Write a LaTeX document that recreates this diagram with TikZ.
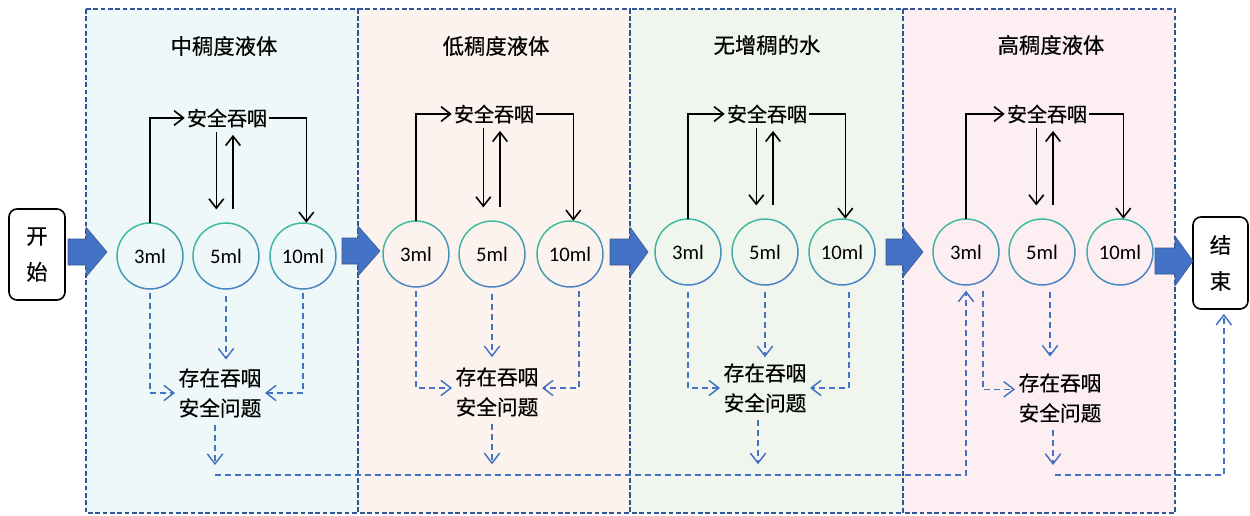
\documentclass[tikz,border=0pt]{standalone}
\usepackage{fontspec}
\setmainfont{Noto Sans CJK SC}[BoldFont={Noto Sans CJK SC}, BoldFeatures={FakeBold=0.5}]
\newfontfamily\latf{Carlito}
\usetikzlibrary{arrows.meta,calc}
\definecolor{ringgreen}{HTML}{3DBE9C}
\definecolor{ringblue}{HTML}{4A7FC8}
\definecolor{panelblue}{HTML}{2F5597}
\definecolor{dblue}{HTML}{4472C4}
\definecolor{fillA}{HTML}{EEF8F8}
\definecolor{fillB}{HTML}{FDF3EE}
\definecolor{fillC}{HTML}{F0F6EE}
\definecolor{fillD}{HTML}{FCEEF1}
\definecolor{barrow}{HTML}{4472C4}
\tikzset{
 panelbox/.style={draw=panelblue, line width=1.3pt, dash pattern=on 3.5pt off 2pt},
 titletext/.style={font=\bfseries\fontsize{16}{18}\selectfont, inner sep=1pt},
 safetext/.style={font=\bfseries\fontsize{15}{18}\selectfont, inner sep=1.5pt},
 probtext/.style={font=\bfseries\fontsize{15.5}{22.5}\selectfont, align=center, inner sep=2.5pt},
 mlc/.style={circle, minimum size=49.5pt, inner sep=0pt, font=\latf\fontsize{15.5}{18}\selectfont},
 blk/.style={draw=black, line width=1.2pt, -{Straight Barb[length=7pt,width=11pt,line width=1.2pt]}},
 dsh/.style={draw=dblue, line width=1.1pt, dash pattern=on 4.5pt off 3pt, -{Straight Barb[length=7.5pt,width=11.5pt,line width=1.1pt]}},
 termbox/.style={draw=black, line width=1.2pt, rounded corners=6pt, align=center, font=\bfseries\fontsize{16}{27}\selectfont},
 bigarrow/.style={fill=barrow, draw=barrow!75!black, line width=0.4pt},
}
\newcommand{\mlcirc}[4]{%
 \node[mlc] (#1) at (#2,#3) {#4};
 \foreach \a in {0,15,...,345}{%
   \pgfmathtruncatemacro\ringt{50*(1+cos(\a+7.5-60))}%
   \draw[line width=1.1pt, color=ringblue!\ringt!ringgreen] (#1.center) ++(\a:33) arc[start angle=\a, end angle=\a+15.5, radius=33];
 }}
\newcommand{\bigarr}[4]{%
 \filldraw[bigarrow] (#1,#4-13) -- (#2,#4-13) -- (#2,#4-25) -- (#3,#4) -- (#2,#4+25) -- (#2,#4+13) -- (#1,#4+13) -- cycle;}
\begin{document}
\begin{tikzpicture}[x=0.75pt,y=-0.75pt]
\useasboundingbox (0,0) rectangle (1250,515);
% panel fills
\fill[fillA] (86,9) rectangle (358,513);
\fill[fillB] (358,9) rectangle (630,513);
\fill[fillC] (630,9) rectangle (903,513);
\fill[fillD] (903,9) rectangle (1175,513);
\draw[panelbox] (86,9) rectangle (358,513);
\draw[panelbox] (358,9) rectangle (630,513);
\draw[panelbox] (630,9) rectangle (903,513);
\draw[panelbox] (903,9) rectangle (1175,513);
% titles
\node[titletext] (t1) at (224,46) {中稠度液体};
\node[titletext] (t2) at (496,46) {低稠度液体};
\node[titletext] (t3) at (767,45) {无增稠的水};
\node[titletext] (t4) at (1051,45) {高稠度液体};
% safe swallow
\node[safetext] (s1) at (227,118) {安全吞咽};
\node[safetext] (s2) at (494,114) {安全吞咽};
\node[safetext] (s3) at (767,114) {安全吞咽};
\node[safetext] (s4) at (1047,114) {安全吞咽};
% circles
\mlcirc{c1a}{150}{256}{3ml}
\mlcirc{c1b}{226}{256}{5ml}
\mlcirc{c1c}{303}{256}{10ml}
\mlcirc{c2a}{416}{254}{3ml}
\mlcirc{c2b}{492}{254}{5ml}
\mlcirc{c2c}{570}{254}{10ml}
\mlcirc{c3a}{688}{252}{3ml}
\mlcirc{c3b}{765}{252}{5ml}
\mlcirc{c3c}{842}{252}{10ml}
\mlcirc{c4a}{966}{252}{3ml}
\mlcirc{c4b}{1042}{252}{5ml}
\mlcirc{c4c}{1120}{252}{10ml}
% problem texts
\node[probtext] (p1) at (220,393) {存在吞咽\\安全问题};
\node[probtext] (p2) at (497,392) {存在吞咽\\安全问题};
\node[probtext] (p3) at (765,388) {存在吞咽\\安全问题};
\node[probtext] (p4) at (1060,398) {存在吞咽\\安全问题};
% start / end
\node[termbox, minimum width=42pt, minimum height=68.25pt] (start) at (37,254.5) {开\\始};
\node[termbox, minimum width=41.25pt, minimum height=69pt] (endb) at (1220.5,263) {结\\束};
% block arrows
\bigarr{68}{86}{107}{252}
\bigarr{342}{358}{380}{251}
\bigarr{610}{630}{648}{252}
\bigarr{886}{903}{923}{252}
\bigarr{1155}{1175}{1193}{261}
% black connectors
\foreach \i in {1,2,3,4}{
  \draw[blk] (c\i a.north) |- (s\i.west);
  \draw[blk] (s\i.east) -| ([xshift=2.5pt]c\i c.north);
  \draw[blk, shorten <=2pt, shorten >=10pt] ([xshift=-8pt]s\i.south) -- ([xshift=-8pt]s\i.south |- c\i b.north);
  \draw[blk, shorten <=10pt, shorten >=4pt] ([xshift=4.5pt]s\i.south |- c\i b.north) -- ([xshift=4.5pt]s\i.south);
}
% dashed connectors
\coordinate (L1) at (215,475);
\coordinate (L4) at (1055,475);
% panel 1
\draw[dsh, shorten <=3pt] (c1a.south) |- (p1.west);
\draw[dsh, shorten <=5pt, shorten >=4pt] (c1b.south) -- (c1b.south |- p1.north);
\draw[dsh, shorten <=3pt] (c1c.south) |- (p1.east);
\draw[dsh, shorten <=3pt, shorten >=7.5pt] ([xshift=-3.75pt]p1.south) -- ([xshift=-3.75pt]p1.south |- L1);
% panel 2
\draw[dsh, shorten <=3pt] (c2a.south) |- ([yshift=3pt]p2.west);
\draw[dsh, shorten <=5pt, shorten >=5pt] (c2b.south) -- (c2b.south |- p2.north);
\draw[dsh, shorten <=3pt] ([xshift=6.75pt]c2c.south) |- ([yshift=3pt]p2.east);
\draw[dsh, shorten <=3pt, shorten >=8pt] ([xshift=-3.75pt]p2.south) -- ([xshift=-3.75pt]p2.south |- L1);
% panel 3
\draw[dsh, shorten <=5pt] (c3a.south) |- (p3.west);
\draw[dsh, shorten <=5pt, shorten >=2pt] (c3b.south) -- (c3b.south |- p3.north);
\draw[dsh, shorten <=5pt] ([xshift=5.25pt]c3c.south) |- (p3.east);
\draw[dsh, shorten <=3pt, shorten >=8pt] ([xshift=-5.25pt]p3.south) -- ([xshift=-5.25pt]p3.south |- L1);
% panel 4
\draw[dsh, shorten <=4pt] ([xshift=12.75pt]c4a.south) |- ([yshift=6.5pt]p4.west);
\draw[dsh, shorten <=5pt, shorten >=10pt] ([xshift=6pt]c4b.south) -- ([xshift=6pt]c4b.south |- p4.north);
\draw[dsh, shorten <=3pt, shorten >=7.5pt] ([xshift=-5.25pt]p4.south) -- ([xshift=-5.25pt]p4.south |- L4);
% long return lines
\draw[dsh, shorten >=4pt] (L1) -| (c4a.south);
\draw[dsh, shorten >=3pt] (L4) -| ([xshift=2.5pt]endb.south);
\end{tikzpicture}
\end{document}
